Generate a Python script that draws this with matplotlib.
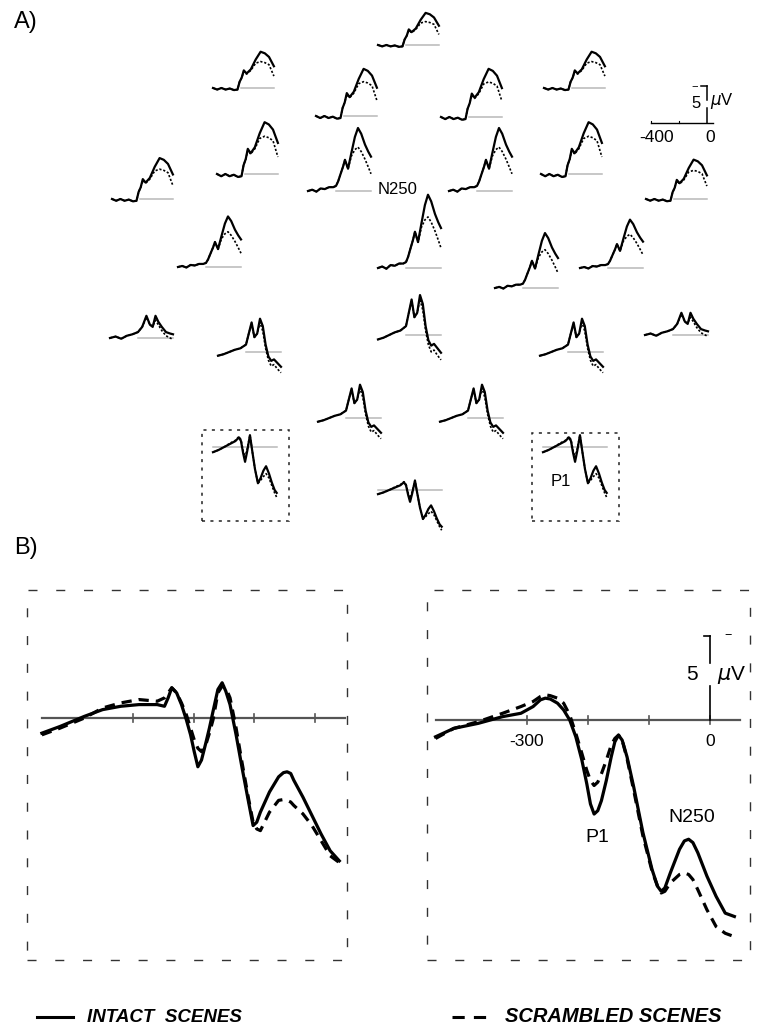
import matplotlib
matplotlib.use('Agg')
import matplotlib.pyplot as plt
import numpy as np
from matplotlib.patches import Rectangle
from matplotlib.lines import Line2D

W, H = 776, 1032
plt.rcParams['font.family'] = ['Liberation Sans', 'DejaVu Sans']

# ---- panel A: waveform templates (uV, negative plotted up) ----
frontal_t = [-400, -370, -340, -310, -280, -250, -225, -210, -195, -180, -160, -130, -95, -60, -30, 0, 35]
frontal_int = [0, 0.3, 0, 0.3, 0.1, 0.4, 0.3, -1.2, -2.0, -3.4, -2.8, -3.6, -5.5, -7.0, -6.7, -6.0, -4.2]
frontal_scr = [0, 0.3, 0, 0.3, 0.1, 0.4, 0.3, -1.2, -2.0, -3.2, -2.7, -3.4, -4.8, -5.1, -4.9, -4.5, -2.3]

central_t = [-400, -370, -340, -310, -280, -250, -220, -200, -185, -170, -150, -136, -114, -90, -65, -43, -20, 7, 30, 50]
central_int = [0, -0.2, 0.1, -0.4, -0.3, -0.6, -0.6, -0.8, -1.5, -2.5, -3.8, -4.9, -3.5, -6.0, -8.5, -9.9, -9.0, -7.3, -6.2, -5.4]
central_scr = [0, -0.2, 0.1, -0.4, -0.3, -0.6, -0.6, -0.8, -1.5, -2.5, -3.8, -4.9, -3.5, -5.5, -6.5, -6.9, -6.2, -5.0, -3.8, -2.7]

temporal_t = [-400, -360, -320, -280, -240, -200, -170, -140, -115, -95, -75, -55, -30, 0, 30, 50]
temporal_int = [0, -0.2, 0.1, -0.3, -0.5, -0.8, -1.5, -3.0, -1.8, -1.5, -3.0, -2.2, -1.5, -0.8, -0.6, -0.5]
temporal_scr = [0, -0.2, 0.1, -0.3, -0.5, -0.8, -1.5, -2.8, -1.8, -1.6, -2.4, -1.8, -1.0, -0.3, 0.0, 0.2]

parietal_t = [-400, -360, -320, -280, -240, -200, -180, -160, -140, -120, -100, -80, -60, -40, -20, 0, 25, 50]
parietal_int = [0.5, 0.3, 0, -0.3, -0.5, -1.0, -2.5, -4.0, -2.0, -2.5, -4.5, -3.5, -1.0, 0.6, 1.2, 1.0, 1.5, 2.0]
parietal_scr = [0.5, 0.3, 0, -0.3, -0.5, -1.0, -2.5, -3.8, -2.0, -2.5, -4.0, -2.8, -0.5, 1.1, 1.9, 1.7, 2.3, 2.8]

occipital_t = [-400, -360, -320, -280, -240, -215, -200, -185, -171, -155, -136, -120, -100, -79, -60, -40, -21, 0, 20, 40, 55]
occipital_int = [0.7, 0.4, 0.0, -0.4, -0.8, -1.3, -0.8, 0.8, 2.0, 0.5, -1.6, 0.5, 3.0, 4.9, 4.2, 3.2, 2.6, 3.6, 4.8, 5.8, 6.2]
occipital_scr = [0.7, 0.4, 0.0, -0.5, -0.9, -1.4, -1.0, 0.5, 1.4, 0.2, -1.6, 0.5, 3.0, 4.9, 4.5, 4.0, 3.6, 4.2, 5.2, 6.2, 6.8]

templates = {
    'frontal': (frontal_t, frontal_int, frontal_scr, -200),
    'central': (central_t, central_int, central_scr, -200),
    'temporal': (temporal_t, temporal_int, temporal_scr, -200),
    'parietal': (parietal_t, parietal_int, parietal_scr, -200),
    'occipital': (occipital_t, occipital_int, occipital_scr, -400),
}

# electrode sites: left pixel of waveform, baseline pixel, template, gain
electrodes = [
    (378, 45, 'frontal', 0.62),
    (213, 88, 'frontal', 0.70), (316, 116, 'frontal', 0.91),
    (441, 117, 'frontal', 0.93), (544, 88, 'frontal', 0.70),
    (112, 199, 'frontal', 0.79), (217, 174, 'frontal', 1.0), (308, 191, 'central', 0.86),
    (449, 191, 'central', 0.86), (541, 174, 'frontal', 1.0), (646, 199, 'frontal', 0.76),
    (178, 267, 'central', 0.69), (378, 268, 'central', 1.0),
    (495, 288, 'central', 0.75), (580, 268, 'central', 0.66),
    (110, 338, 'temporal', 1.0), (218, 352, 'parietal', 1.0), (378, 335, 'parietal', 1.2),
    (540, 352, 'parietal', 1.0), (645, 335, 'temporal', 1.0),
    (318, 418, 'parietal', 1.0), (440, 418, 'parietal', 1.0),
    (213, 447, 'occipital', 1.0), (543, 447, 'occipital', 1.0), (378, 490, 'occipital', 0.8),
]

# ---- panel B: enlarged posterior sites ----
left_t = [-450, -420, -380, -350, -320, -290, -260, -248, -242, -236, -228, -220, -212, -205, -199, -193, -187,
          -180, -174, -168, -160, -153, -147, -140, -130, -120, -110, -102, -96, -90, -75, -60, -52, -46, -40,
          -35, -20, -5, 10, 25, 40]
left_int = [0.9, 0.5, -0.1, -0.5, -0.7, -0.8, -0.8, -0.7, -1.2, -1.8, -1.5, -0.8, 0.1, 1.0, 2.0, 2.9, 2.5,
            1.5, 0.6, -0.4, -1.7, -2.1, -1.6, -0.8, 1.0, 3.0, 4.9, 6.4, 6.2, 5.6, 4.4, 3.5, 3.25, 3.2, 3.3,
            3.7, 4.7, 5.8, 6.9, 7.9, 8.5]
left_scr = [1.0, 0.6, 0.0, -0.6, -0.9, -1.1, -1.0, -1.2, -1.5, -1.8, -1.5, -0.9, -0.2, 0.6, 1.3, 1.8, 2.0,
            1.6, 0.9, 0.1, -1.5, -1.9, -1.8, -1.2, 0.6, 2.7, 4.7, 6.2, 6.6, 6.7, 5.6, 4.9, 4.85, 4.9, 5.0,
            5.2, 5.7, 6.4, 7.3, 8.2, 8.6]

right_t = [-450, -420, -380, -340, -310, -290, -278, -270, -262, -250, -240, -230, -220, -210, -202, -196, -190,
           -184, -178, -170, -162, -156, -150, -144, -136, -125, -110, -95, -86, -80, -74, -65, -50, -42, -35,
           -28, -20, -5, 10, 25, 40]
right_int = [1.0, 0.5, 0.2, -0.2, -0.4, -0.8, -1.2, -1.3, -1.25, -1.0, -0.6, 0.0, 1.0, 2.4, 3.8, 5.0, 5.6,
             5.4, 4.8, 3.6, 2.2, 1.3, 0.9, 1.2, 2.2, 4.0, 6.7, 8.9, 9.9, 10.2, 10.0, 9.1, 7.7, 7.2, 7.1,
             7.3, 7.9, 9.3, 10.5, 11.5, 11.7]
right_scr = [1.1, 0.5, 0.1, -0.4, -0.8, -1.1, -1.4, -1.5, -1.45, -1.3, -1.0, -0.3, 0.8, 2.0, 3.0, 3.6, 3.9,
             3.7, 3.2, 2.4, 1.5, 1.1, 0.9, 1.2, 2.3, 4.2, 6.9, 9.0, 9.9, 10.3, 10.2, 9.7, 9.2, 9.1, 9.2,
             9.5, 10.1, 11.3, 12.3, 12.7, 12.9]
b_ticks = [-300, -200, -100, 0]

fig = plt.figure(figsize=(W / 100, H / 100), dpi=100)


def px_axes(left, top, w, h):
    ax = fig.add_axes([left / W, 1 - (top + h) / H, w / W, h / H])
    ax.axis('off')
    return ax


def fig_text(x, y, s, **kw):
    fig.text(x / W, 1 - y / H, s, **kw)


# mini plots: 0.14 px per ms, 7.4 px per uV
PX_MS, PX_UV = 0.14, 7.4
T0, T1, V0, V1 = -420, 80, -12, 8


def mini_axes(x0, y0):
    left = x0 + (T0 + 400) * PX_MS
    top = y0 + V0 * PX_UV
    ax = px_axes(left, top, (T1 - T0) * PX_MS, (V1 - V0) * PX_UV)
    ax.set_xlim(T0, T1)
    ax.set_ylim(V1, V0)
    return ax


for x0, y0, kind, gain in electrodes:
    t, yi, ys, g0 = templates[kind]
    ax = mini_axes(x0, y0)
    ax.plot([g0, t[-1]], [0, 0], color='#b8b8b8', lw=1.1)
    ax.plot(t, np.array(ys) * gain, color='k', lw=1.2, ls=(0, (1.3, 1.1)))
    ax.plot(t, np.array(yi) * gain, color='k', lw=1.6)

# scale bar
ax = mini_axes(651, 123)
ax.plot([-400, 43], [0, 0], color='k', lw=1.0)
for tk in [-400, -200]:
    ax.plot([tk, tk], [0, -0.3], color='k', lw=0.8)
ax.plot([0, 0], [0, -2.0], color='k', lw=1.1)
ax.plot([0, 0], [-3.1, -5.0], color='k', lw=1.1)
ax.plot([-40, 0], [-5.0, -5.0], color='k', lw=1.1)
ax.text(-90, -5.0, '\u2212', fontsize=8, ha='center', va='center')
ax.text(-79, -2.7, '5', fontsize=12, ha='center', va='center')
ax.text(20, -3.0, r'$\mu$V', fontsize=12, ha='left', va='center')
fig_text(657, 137, '-400', fontsize=12.5, ha='center', va='center')
fig_text(710, 137, '0', fontsize=12.5, ha='center', va='center')

# dotted boxes around posterior sites
for bx, by, bw, bh in [(202, 430, 87, 91), (532, 433, 87, 88)]:
    fig.add_artist(Rectangle((bx / W, 1 - (by + bh) / H), bw / W, bh / H, transform=fig.transFigure,
                             fill=False, ls=(0, (2, 3.5)), lw=1.1, ec='#222222'))

fig_text(398, 190, 'N250', fontsize=12, ha='center', va='center')
fig_text(561, 482, 'P1', fontsize=12, ha='center', va='center')
fig_text(14, 22, 'A)', fontsize=17, ha='left', va='center')
fig_text(14, 548, 'B)', fontsize=17, ha='left', va='center')


# ---- panel B ----
def big_panel(left, width, xlim, ylim, t, yi, ys):
    ax = px_axes(left, 590, width, 370)
    ax.set_xlim(*xlim)
    ax.set_ylim(*ylim)
    ax.add_patch(Rectangle((0, 0), 1, 1, transform=ax.transAxes, fill=False,
                           ls=(0, (6.5, 13.5)), lw=1.0, ec='#333333', clip_on=False))
    ax.plot([-450, 50], [0, 0], color='#555555', lw=1.6)
    for tk in b_ticks:
        ax.plot([tk, tk], [-0.25, 0.25], color='#555555', lw=1.2)
    ax.plot(t, ys, color='k', lw=2.3, ls=(0, (3.2, 2.2)))
    ax.plot(t, yi, color='k', lw=2.3)
    return ax


big_panel(27, 320, (-474.5, 52.7), (14.4, -7.62), left_t, left_int, left_scr)
ax = big_panel(427, 323, (-464, 65.6), (14.29, -7.74), right_t, right_int, right_scr)
ax.plot([0, 0], [0, -2.0], color='k', lw=1.2)
ax.plot([0, 0], [-3.4, -5.0], color='k', lw=1.2)
ax.plot([-10, 0], [-5.0, -5.0], color='k', lw=1.2)
ax.text(30, -5.0, '\u2212', fontsize=9, ha='center', va='center')
ax.text(-30, -2.7, '5', fontsize=15, ha='center', va='center')
ax.text(12, -2.7, r'$\mu$V', fontsize=15, ha='left', va='center')
ax.text(-300, 1.3, '-300', fontsize=12.5, ha='center', va='center')
ax.text(0, 1.3, '0', fontsize=12.5, ha='center', va='center')
ax.text(-185, 7.0, 'P1', fontsize=14, ha='center', va='center')
ax.text(-30, 5.8, 'N250', fontsize=14, ha='center', va='center')

# legend
ly = 1 - 1017 / H
fig.add_artist(Line2D([37 / W, 73 / W], [ly, ly], color='k', lw=2.2, transform=fig.transFigure))
fig.add_artist(Line2D([452 / W, 487 / W], [ly, ly], color='k', lw=2.2, ls=(0, (4, 3)),
                      transform=fig.transFigure))
fig_text(87, 1017, 'INTACT  SCENES', fontsize=13.5, fontweight='bold', style='italic', va='center')
fig_text(505, 1017, 'SCRAMBLED SCENES', fontsize=14.5, fontweight='bold', style='italic', va='center')

fig.savefig('out.png', dpi=100)
